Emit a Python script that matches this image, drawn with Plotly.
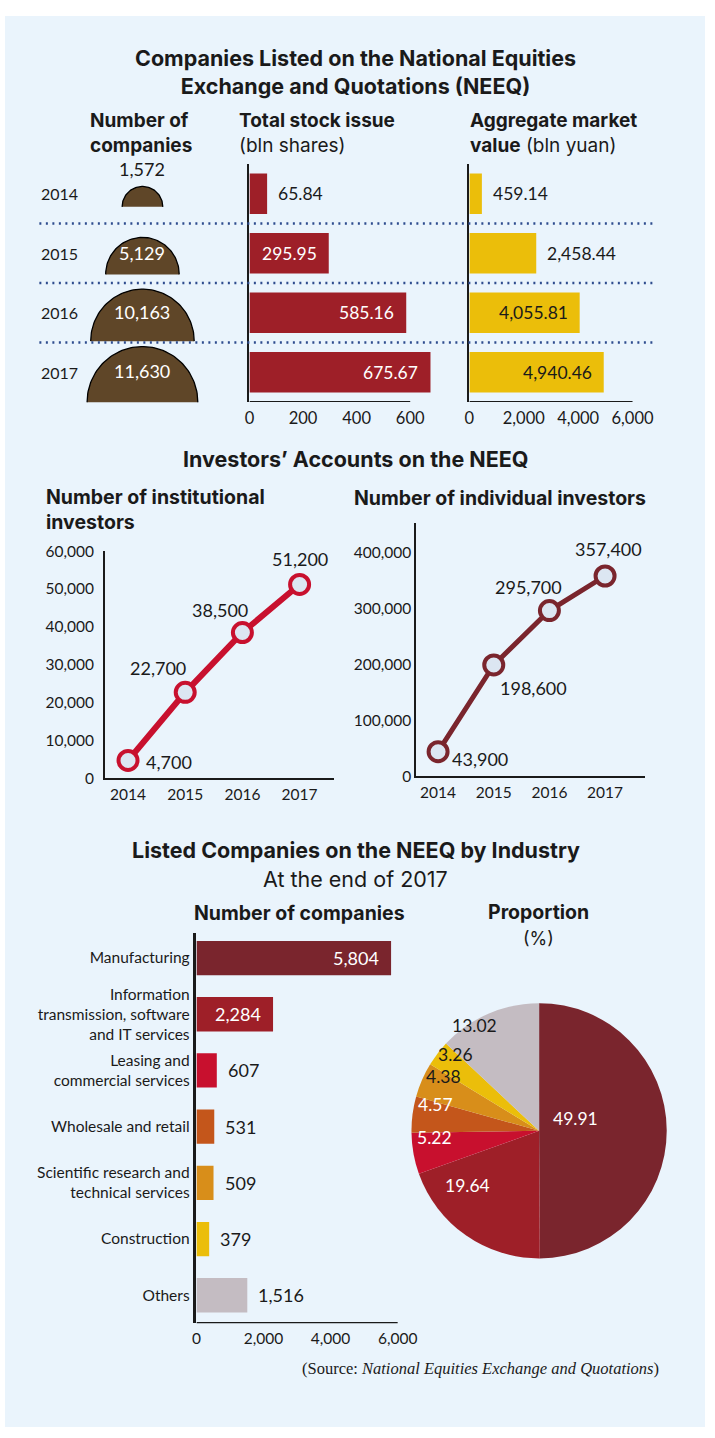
import plotly.graph_objects as go
import numpy as np

W, H = 715, 1438

# ---------------- data ----------------
years = ["2014", "2015", "2016", "2017"]
companies = [1572, 5129, 10163, 11630]
stock_issue = [65.84, 295.95, 585.16, 675.67]
market_value = [459.14, 2458.44, 4055.81, 4940.46]
institutional = [4700, 22700, 38500, 51200]
individual = [43900, 198600, 295700, 357400]
industries = [
    "Manufacturing",
    "Information<br>transmission, software<br>and IT services",
    "Leasing and<br>commercial services",
    "Wholesale and retail",
    "Scientific research and<br>technical services",
    "Construction",
    "Others",
]
industry_counts = [5804, 2284, 607, 531, 509, 379, 1516]
industry_share = [49.91, 19.64, 5.22, 4.57, 4.38, 3.26, 13.02]
stock_ticks = [0, 200, 400, 600]
value_ticks = [0, 2000, 4000, 6000]
inst_ticks = [0, 10000, 20000, 30000, 40000, 50000, 60000]
indiv_ticks = [0, 100000, 200000, 300000, 400000]
industry_ticks = [0, 2000, 4000, 6000]

# ---------------- style ----------------
BG = "#EAF4FC"
INK = "#1A1A1A"
BROWN = "#5F4628"
RED_BAR = "#9E1F28"
YELLOW = "#EBBE0A"
LINE1 = "#C8102E"
LINE2 = "#7A252D"
MARKER_FILL = "#DCE6F2"
DOTS = "#2E4C8E"
IND_COLORS = ["#7A252D", "#9E1F28", "#C8102E", "#C4561B", "#D88E1A", "#EBBE0A", "#C4BCC2"]
PIE_TEXT = ["white", "white", "white", "white", INK, INK, INK]
PIE_LABEL_R = [0.48, 0.64, 0.83, 0.82, 0.82, 0.82, 0.79]
NUM = "Lato"
HEAD = "Inter"

inst_offsets = [(41, -2), (-27, 24), (-22, 23), (0, 25)]
indiv_offsets = [(42, -7), (40, -23), (-21, 24), (3, 27)]


def xd(a, b):
    return [a / W, b / W]


def yd(top, bottom):
    return [1 - bottom / H, 1 - top / H]


def px(x):
    return x / W


def py(y):
    return 1 - y / H


fig = go.Figure()
ann = []
shapes = []

# background panel
shapes.append(dict(type="rect", xref="paper", yref="paper", x0=0, x1=px(713), y0=py(1435), y1=py(6),
                   fillcolor=BG, line=dict(width=0), layer="below"))


def text(x, y, s, size=16, bold=False, family=NUM, color=INK, xanchor="center"):
    ann.append(dict(x=px(x), y=py(y), xref="paper", yref="paper", text=s, showarrow=False,
                    xanchor=xanchor, yanchor="middle", align="left" if xanchor == "left" else "center",
                    font=dict(family=family, size=size, color=color, weight=700 if bold else 400)))


# ---------------- headings ----------------
text(357, 63, "Companies Listed on the National Equities<br>Exchange and Quotations (NEEQ)", 21.5, True, HEAD)
text(85, 125, "Number of<br>companies", 19, True, HEAD, xanchor="left")
text(236, 125, "<b>Total stock issue</b><br>(bln shares)", 19, False, HEAD, xanchor="left")
text(472, 125, "<b>Aggregate market<br>value</b> (bln yuan)", 19, False, HEAD, xanchor="left")
text(357, 455, "Investors’ Accounts on the NEEQ", 21.5, True, HEAD)
text(40, 506, "Number of institutional<br>investors", 19.5, True, HEAD, xanchor="left")
text(353, 494, "Number of individual investors", 19.5, True, HEAD, xanchor="left")
text(357, 851, "Listed Companies on the NEEQ by Industry", 21.5, True, HEAD)
text(357, 880, "At the end of 2017", 21.5, False, HEAD)
text(300, 914, "Number of companies", 19.5, True, HEAD)
text(543, 913, "Proportion", 19.5, True, HEAD)
text(543, 940, "(%)", 18, False, HEAD)
text(668, 1376, "(Source: <i>National Equities Exchange and Quotations</i>)", 16.5, False,
     "Liberation Serif", xanchor="right")

# ---------------- semicircles ----------------
rows = list(range(len(years)))
R_MAX = 0.94
cmax = max(companies)
theta = np.linspace(0, np.pi, 80)
for i, v in enumerate(companies):
    r = R_MAX * np.sqrt(v / cmax)
    base = i + r / 2 + 0.05
    xs = r * np.cos(theta)
    ys = base - r * np.sin(theta)
    fig.add_trace(go.Scatter(x=xs, y=ys, mode="lines", fill="toself", fillcolor=BROWN,
                             line=dict(width=0), xaxis="x", yaxis="y", hoverinfo="skip"))
    fig.add_trace(go.Scatter(x=xs, y=ys, mode="lines", line=dict(color="black", width=1.3),
                             xaxis="x", yaxis="y", hoverinfo="skip"))
    outside = r < 0.45
    ann.append(dict(x=0, y=(base - r - 0.3) if outside else i, xref="x", yref="y",
                    text=f"{v:,}", showarrow=False,
                    font=dict(family=NUM, size=18, color=INK if outside else "white")))
    ann.append(dict(x=px(35), y=i, xref="paper", yref="y2", text=years[i], showarrow=False,
                    xanchor="left", font=dict(family=NUM, size=16, color=INK)))

# dotted separators
for k in range(len(years) - 1):
    shapes.append(dict(type="line", xref="paper", yref="y2", x0=px(35), x1=px(662), y0=k + 0.5, y1=k + 0.5,
                       line=dict(color=DOTS, width=2.5, dash="2px,4.5px")))

# ---------------- bars: stock issue & market value ----------------
fig.add_trace(go.Bar(x=stock_issue, y=rows, orientation="h", width=0.68, marker=dict(color=RED_BAR, line=dict(width=0)),
                     xaxis="x2", yaxis="y2", hoverinfo="skip"))
fig.add_trace(go.Bar(x=market_value, y=rows, orientation="h", width=0.68, marker=dict(color=YELLOW, line=dict(width=0)),
                     xaxis="x3", yaxis="y3", hoverinfo="skip"))


def bar_labels(values, xref, yref, fmt, px_per_unit, threshold, inside_color, size=17.5):
    for i, v in enumerate(values):
        inside = v * px_per_unit > threshold
        ann.append(dict(x=v, y=i, xref=xref, yref=yref, text=fmt(v), showarrow=False,
                        xanchor="right" if inside else "left", xshift=-10 if inside else 9,
                        font=dict(family=NUM, size=size, color=inside_color if inside else INK)))


S2_DOM, S2_RANGE = (249, 440), (0, 700)
S3_DOM, S3_RANGE = (473, 653), (0, 6500)
bar_labels(stock_issue, "x2", "y2", lambda v: f"{v:,.2f}",
           (S2_DOM[1] - S2_DOM[0]) / (S2_RANGE[1] - S2_RANGE[0]), 60, "white")
bar_labels(market_value, "x3", "y3", lambda v: f"{v:,.2f}",
           (S3_DOM[1] - S3_DOM[0]) / (S3_RANGE[1] - S3_RANGE[0]), 100, INK)

shapes.append(dict(type="line", xref="x2", yref="y2", x0=0, x1=max(stock_ticks), y0=3.5, y1=3.5,
                   line=dict(color=INK, width=2)))
shapes.append(dict(type="line", xref="x3", yref="y3", x0=0, x1=max(value_ticks), y0=3.5, y1=3.5,
                   line=dict(color=INK, width=2)))

# ---------------- line charts ----------------
fig.add_trace(go.Scatter(x=rows, y=institutional, mode="lines+markers", cliponaxis=False,
                         line=dict(color=LINE1, width=6),
                         marker=dict(size=19, color=MARKER_FILL, line=dict(color=LINE1, width=4)),
                         xaxis="x4", yaxis="y4", hoverinfo="skip"))
fig.add_trace(go.Scatter(x=rows, y=individual, mode="lines+markers", cliponaxis=False,
                         line=dict(color=LINE2, width=5),
                         marker=dict(size=19, color=MARKER_FILL, line=dict(color=LINE2, width=4)),
                         xaxis="x5", yaxis="y5", hoverinfo="skip"))
for i, v in enumerate(institutional):
    dx, dy = inst_offsets[i]
    ann.append(dict(x=i, y=v, xref="x4", yref="y4", text=f"{v:,}", showarrow=False, xshift=dx, yshift=dy,
                    font=dict(family=NUM, size=18, color=INK)))
for i, v in enumerate(individual):
    dx, dy = indiv_offsets[i]
    ann.append(dict(x=i, y=v, xref="x5", yref="y5", text=f"{v:,}", showarrow=False, xshift=dx, yshift=dy,
                    font=dict(family=NUM, size=18, color=INK)))

# ---------------- industry bars ----------------
ind_rows = list(range(len(industries)))
fig.add_trace(go.Bar(x=industry_counts, y=ind_rows, orientation="h", width=0.61,
                     marker=dict(color=IND_COLORS, line=dict(width=0)),
                     xaxis="x6", yaxis="y6", hoverinfo="skip"))
S6_DOM, S6_RANGE = (195, 417), (0, 6500)
bar_labels(industry_counts, "x6", "y6", lambda v: f"{v:,}",
           (S6_DOM[1] - S6_DOM[0]) / (S6_RANGE[1] - S6_RANGE[0]), 70, "white", 18)
shapes.append(dict(type="line", xref="x6", yref="y6", x0=0, x1=max(industry_ticks), y0=6.5, y1=6.5,
                   line=dict(color=INK, width=2.5)))

# ---------------- pie ----------------
PCX, PCY, PR = 544, 1135, 130
fig.add_trace(go.Pie(values=industry_share, sort=False, direction="clockwise", rotation=0,
                     marker=dict(colors=IND_COLORS, line=dict(width=0)), textinfo="none",
                     domain=dict(x=xd(PCX - PR, PCX + PR), y=yd(PCY - PR, PCY + PR)),
                     hoverinfo="skip", showlegend=False))
total = sum(industry_share)
cum = 0.0
for i, v in enumerate(industry_share):
    ang = 2 * np.pi * (cum + v / 2) / total
    cum += v
    lx = PCX + PIE_LABEL_R[i] * PR * np.sin(ang)
    ly = PCY - PIE_LABEL_R[i] * PR * np.cos(ang)
    ann.append(dict(x=px(lx), y=py(ly), xref="paper", yref="paper", text=f"{v:.2f}", showarrow=False,
                    font=dict(family=NUM, size=17.5, color=PIE_TEXT[i])))

# ---------------- axes ----------------
hidden = dict(visible=False, showgrid=False, zeroline=False, fixedrange=True)
tickfont = dict(family=NUM, size=15.5, color=INK)


def xaxis_num(dom, rng, ticks, anchor, fmt=","):
    return dict(domain=xd(*dom), range=list(rng), tickvals=ticks, tickformat=fmt, ticks="",
                showgrid=False, zeroline=False, showline=False, tickfont=tickfont,
                anchor=anchor, ticklabelstandoff=4)


fig.update_layout(
    width=W, height=H, margin=dict(l=0, r=0, t=0, b=0), showlegend=False,
    paper_bgcolor="white", plot_bgcolor="rgba(0,0,0,0)",
    xaxis=dict(domain=xd(20, 260), range=[-2, 2], anchor="y", **hidden),
    yaxis=dict(domain=yd(140, 420), range=[(420 - 186) / 60, (140 - 186) / 60], anchor="x", **hidden),
    xaxis2=dict(xaxis_num(S2_DOM, S2_RANGE, stock_ticks, "y2", "d"), tickfont=dict(family=NUM, size=16.5, color=INK)),
    yaxis2=dict(domain=yd(156, 397), range=[3.5, -0.5], anchor="x2", showticklabels=False, ticks="",
                showgrid=False, zeroline=False, showline=True, linecolor=INK, linewidth=2),
    xaxis3=dict(xaxis_num(S3_DOM, S3_RANGE, value_ticks, "y3"), tickfont=dict(family=NUM, size=16.5, color=INK)),
    yaxis3=dict(domain=yd(156, 397), range=[3.5, -0.5], anchor="x3", showticklabels=False, ticks="",
                showgrid=False, zeroline=False, showline=True, linecolor=INK, linewidth=2),
    xaxis4=dict(domain=xd(102, 335), range=[-0.4, 3.6], tickvals=rows, ticktext=years, ticks="",
                showgrid=False, zeroline=False, showline=True, linecolor=INK, linewidth=2,
                tickfont=tickfont, anchor="y4", ticklabelstandoff=1),
    yaxis4=dict(domain=yd(548, 778), range=[0, 60000], tickvals=inst_ticks, tickformat=",", ticks="",
                showgrid=False, zeroline=False, showline=True, linecolor=INK, linewidth=2,
                tickfont=tickfont, anchor="x4", ticklabelstandoff=6),
    xaxis5=dict(domain=xd(419, 652), range=[-0.39, 3.72], tickvals=rows, ticktext=years, ticks="",
                showgrid=False, zeroline=False, showline=True, linecolor=INK, linewidth=2,
                tickfont=tickfont, anchor="y5", ticklabelstandoff=1),
    yaxis5=dict(domain=yd(520, 776), range=[0, 451100], tickvals=indiv_ticks, tickformat=",", ticks="",
                showgrid=False, zeroline=False, showline=True, linecolor=INK, linewidth=2,
                tickfont=tickfont, anchor="x5", ticklabelstandoff=0),
    xaxis6=xaxis_num(S6_DOM, S6_RANGE, industry_ticks, "y6"),
    yaxis6=dict(domain=yd(935, 1330), range=[6.5, -0.44], tickvals=ind_rows, ticktext=industries, ticks="",
                showgrid=False, zeroline=False, showline=True, linecolor=INK, linewidth=2.5,
                tickfont=dict(family=NUM, size=15.5, color=INK), anchor="x6", ticklabelstandoff=1),
    annotations=ann,
    shapes=shapes,
)

fig.write_html("out.html", config={"displayModeBar": False},
               post_script="document.body.style.margin='0';document.body.style.overflow='hidden';")
